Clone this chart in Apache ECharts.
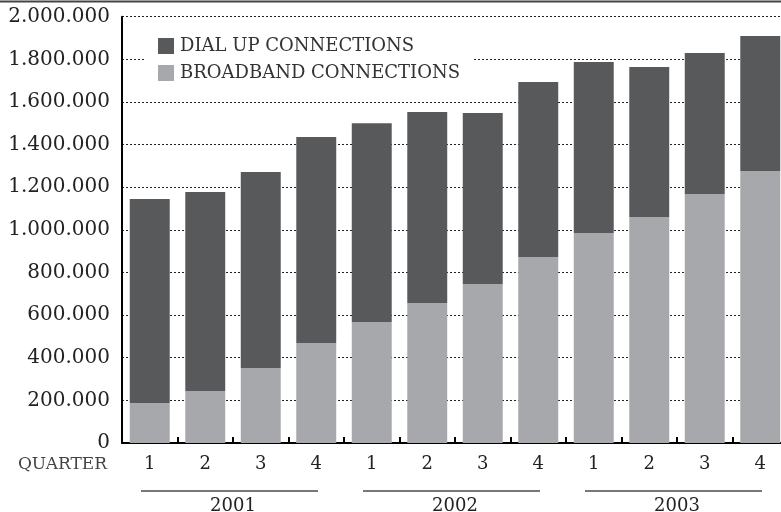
<!DOCTYPE html>
<html>
<head>
<meta charset="utf-8">
<script src="https://cdn.jsdelivr.net/npm/echarts@6/dist/echarts.min.js"></script>
<style>html,body{margin:0;padding:0;background:#fff}#c{width:781px;height:512px}</style>
</head>
<body>
<div id="c"></div>
<script>
var quarters = ['1','2','3','4','1','2','3','4','1','2','3','4'];
var years = ['2001','2002','2003'];
var broadband = [188000, 244000, 352000, 469000, 568000, 657000, 746000, 873000, 985000, 1060000, 1168000, 1276000];
var dialUp = [957000, 934000, 919000, 967000, 932000, 896000, 802000, 821000, 803000, 704000, 662000, 633000];
var yTicks = [0, 200000, 400000, 600000, 800000, 1000000, 1200000, 1400000, 1600000, 1800000, 2000000];

var FONT = 'DejaVu Serif';
function fmt(v){ return String(v).replace(/\B(?=(\d{3})+(?!\d))/g, '.'); }

var chart = echarts.init(document.getElementById('c'), null, {renderer:'canvas'});
var option = {
  animation: false,
  backgroundColor: '#fff',
  grid: {left: 122, top: 16.7, height: 426.3, width: 666, containLabel: false, outerBoundsMode: 'none'},
  legend: {
    orient: 'vertical', left: 146, top: 25,
    padding: [12, 12, 12, 12],
    backgroundColor: '#fff',
    itemWidth: 16, itemHeight: 16, itemGap: 9,
    icon: 'rect',
    data: ['DIAL UP CONNECTIONS', 'BROADBAND CONNECTIONS'],
    textStyle: {fontFamily: FONT, fontSize: 18, color: '#333', padding: [0,0,0,1]}
  },
  xAxis: [{
    type: 'category', data: quarters, gridIndex: 0, position: 'bottom',
    axisLine: {show: true, lineStyle: {color: '#000', width: 2}},
    axisTick: {show: true, inside: true, length: 6, lineStyle: {color: '#000', width: 2}},
    axisLabel: {fontFamily: FONT, fontSize: 18, color: '#222', margin: 12, interval: 0}
  }, {
    type: 'category', data: years, gridIndex: 0, position: 'bottom', offset: 46,
    axisLine: {show: false}, axisTick: {show: false},
    axisLabel: {fontFamily: FONT, fontSize: 18, color: '#222', margin: 8}
  }],
  yAxis: {
    type: 'value', min: 0, max: 2000000, interval: 200000,
    axisLine: {show: true, lineStyle: {color: '#000', width: 2}},
    axisTick: {show: false},
    axisLabel: {fontFamily: FONT, fontSize: 20, color: '#222', margin: 12, formatter: function(v){ return fmt(v); }},
    splitLine: {show: true, lineStyle: {type: [2,2], color: '#222', width: 1}}
  },
  series: [{
    name: 'BROADBAND CONNECTIONS', type: 'bar', stack: 'total', data: broadband,
    barCategoryGap: '28%', itemStyle: {color: '#a7a8ab'}
  }, {
    name: 'DIAL UP CONNECTIONS', type: 'bar', stack: 'total', data: dialUp,
    barCategoryGap: '28%', itemStyle: {color: '#58595b'}
  }]
};
chart.setOption(option);

var g = [{
  type: 'line', shape: {x1: 0, y1: 1.5, x2: 781, y2: 1.5},
  style: {stroke: '#444', lineWidth: 2}, silent: true
}, {
  type: 'text', right: 781 - 107, top: 456,
  style: {text: 'QUARTER', fontFamily: FONT, fontSize: 17, fill: '#444', textAlign: 'right'}
}];
years.forEach(function(y){
  var c = chart.convertToPixel({xAxisIndex: 1}, y);
  g.push({type: 'line', shape: {x1: c - 92, y1: 491, x2: c + 85, y2: 491},
    style: {stroke: '#777', lineWidth: 2}, silent: true});
});
chart.setOption({graphic: g});
</script>
</body>
</html>
